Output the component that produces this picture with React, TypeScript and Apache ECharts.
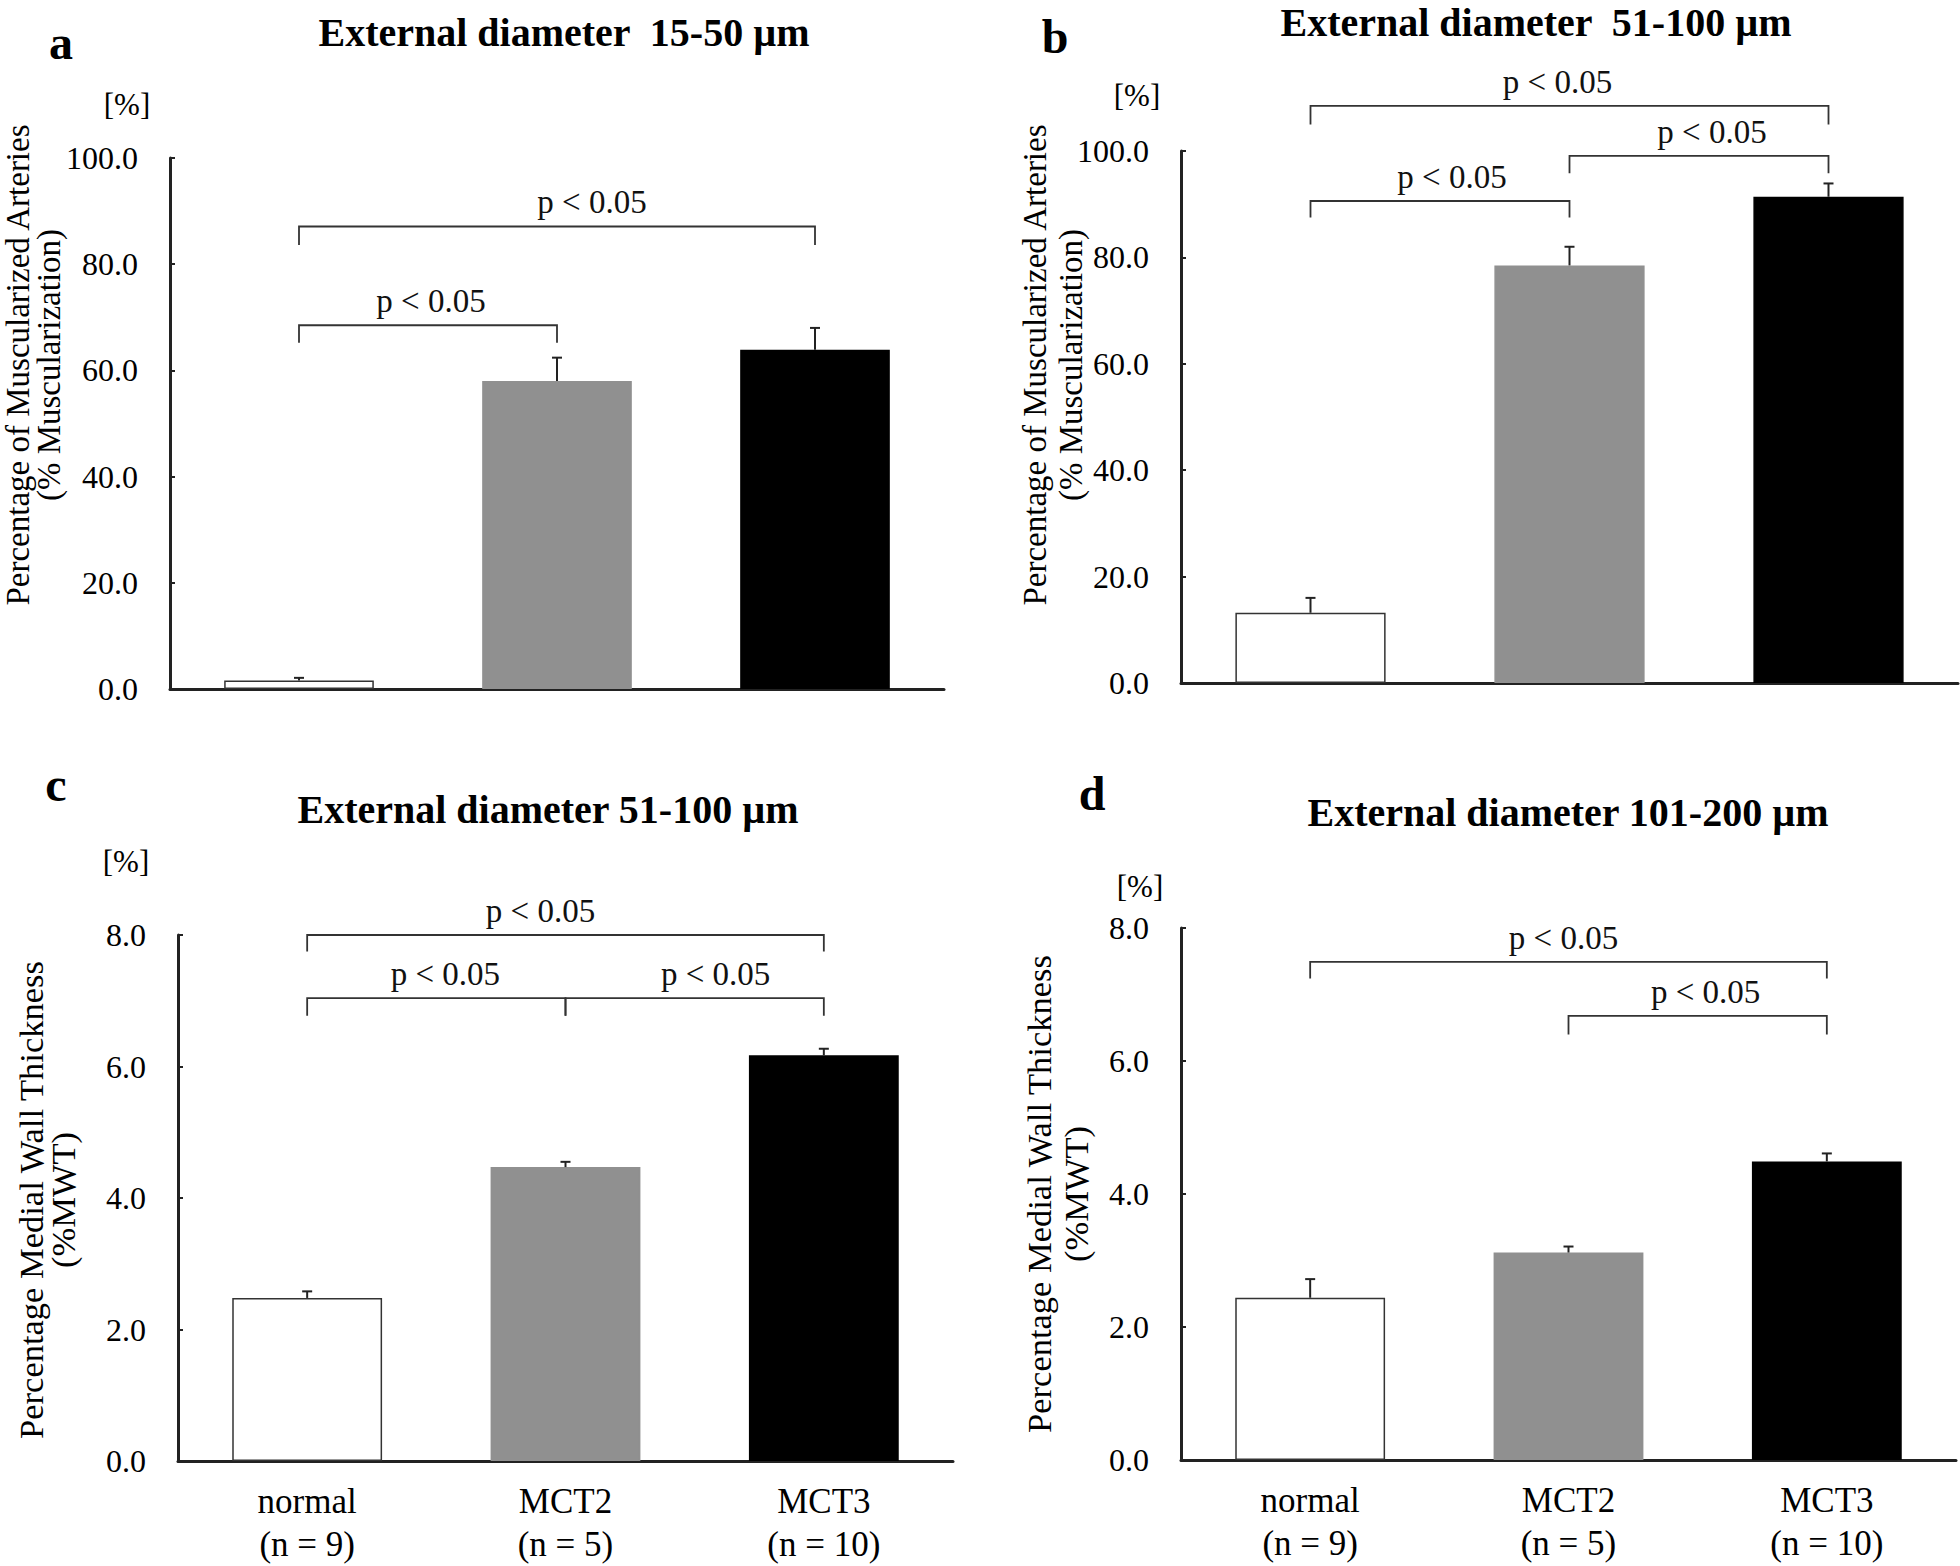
import React, { useEffect, useRef } from "react";
import * as echarts from "echarts";

// ---------------- data ----------------
const categories = ["normal", "MCT2", "MCT3"];
const groupSizes = ["(n = 9)", "(n = 5)", "(n = 10)"];

const panelLetters = ["a", "b", "c", "d"];
const panelTitles = [
  "External diameter  15-50 µm",
  "External diameter  51-100 µm",
  "External diameter 51-100 µm",
  "External diameter 101-200 µm",
];
const yNamesTop = ["Percentage of Muscularized Arteries", "(% Muscularization)"];
const yNamesBottom = ["Percentage Medial Wall Thickness", "(%MWT)"];
const unitLabel = "[%]";
const pLabel = "p < 0.05";

// panel a: muscularization, 15-50 µm
const aMeans = [1.6, 58.0, 63.9];
const aErr = [0.5, 4.4, 4.1];
// panel b: muscularization, 51-100 µm
const bMeans = [13.2, 78.5, 91.4];
const bErr = [2.8, 3.5, 2.5];
// panel c: %MWT, 51-100 µm
const cMeans = [2.48, 4.47, 6.17];
const cErr = [0.1, 0.08, 0.1];
// panel d: %MWT, 101-200 µm
const dMeans = [2.44, 3.12, 4.49];
const dErr = [0.28, 0.09, 0.12];

// significance brackets: [fromIndex, toIndex, level, legEnd]
const aBrackets = [
  [0, 1, 68.5, 65.2],
  [0, 2, 87.1, 83.6],
];
const bBrackets = [
  [0, 1, 90.6, 87.5],
  [1, 2, 99.1, 95.8],
  [0, 2, 108.5, 105.0],
];
const cBrackets = [
  [0, 1, 7.04, 6.77],
  [1, 2, 7.04, 6.77],
  [0, 2, 8.0, 7.75],
];
const dBrackets = [
  [0, 2, 7.49, 7.24],
  [1, 2, 6.68, 6.4],
];

const yMaxes = [100, 100, 8, 8];
const yIntervals = [20, 20, 2, 2];

// ---------------- layout / style ----------------
const FONT = "'Liberation Serif', 'Times New Roman', serif";
const barColors = ["#ffffff", "#909090", "#000000"];
const barBorders = ["#333333", "#909090", "#000000"];
const grids = [
  { left: 170, top: 158, width: 774, height: 531 },
  { left: 1181, top: 151, width: 777, height: 532 },
  { left: 178, top: 935, width: 775, height: 532 },
  { left: 1181, top: 928, width: 775, height: 532 },
];
const bracketLabelDx = [
  [3, 35],
  [12, 13, -12],
  [9, 21, -25],
  [-5, 8],
];
const letterPos = [
  [61, 42],
  [1055, 36],
  [56, 784],
  [1092, 793],
];
const titlePos = [
  [564, 32],
  [1536, 22],
  [548, 809],
  [1568, 812],
];
const unitPos = [
  [127, 104],
  [1137, 95],
  [126, 861],
  [1140, 886],
];
const yNamePos = [
  { x1: 18, x2: 49, y: 365, size: 33 },
  { x1: 1035, x2: 1071, y: 365, size: 33 },
  { x1: 31, x2: 63, y: 1200, size: 34.5 },
  { x1: 1039, x2: 1076, y: 1194, size: 34.5 },
];

export default function App() {
  const ref = useRef<HTMLDivElement>(null);

  useEffect(() => {
    if (!ref.current) return;
    const chart = echarts.init(ref.current, undefined, { renderer: "svg" });

    const means = [aMeans, bMeans, cMeans, dMeans];
    const errs = [aErr, bErr, cErr, dErr];
    const brackets = [aBrackets, bBrackets, cBrackets, dBrackets];

    const xAxes: any[] = [];
    const yAxes: any[] = [];
    const series: any[] = [];
    const graphics: any[] = [];

    for (let p = 0; p < 4; p++) {
      const isBottom = p >= 2;
      xAxes.push({
        type: "category",
        gridIndex: p,
        data: categories,
        axisLine: { show: true, lineStyle: { color: "#222", width: 3 } },
        axisTick: { show: false },
        axisLabel: {
          show: isBottom,
          interval: 0,
          color: "#000",
          fontFamily: FONT,
          fontSize: 35,
          lineHeight: 43,
          margin: 19,
          formatter: (v: string, i: number) => `${v}\n${groupSizes[i]}`,
        },
        splitLine: { show: false },
      });
      yAxes.push({
        type: "value",
        gridIndex: p,
        min: 0,
        max: yMaxes[p],
        interval: yIntervals[p],
        axisLine: { show: true, lineStyle: { color: "#222", width: 3 } },
        axisTick: { show: true, inside: true, length: 5, lineStyle: { color: "#222", width: 2 } },
        axisLabel: {
          color: "#000",
          fontFamily: FONT,
          fontSize: 32,
          margin: 32,
          formatter: (v: number) => v.toFixed(1),
        },
        splitLine: { show: false },
      });

      series.push({
        type: "bar",
        xAxisIndex: p,
        yAxisIndex: p,
        barCategoryGap: "42%",
        data: means[p].map((v, i) => ({
          value: v,
          itemStyle: { color: barColors[i], borderColor: barBorders[i], borderWidth: 1.5 },
        })),
        z: 2,
      });

      series.push({
        type: "custom",
        xAxisIndex: p,
        yAxisIndex: p,
        z: 3,
        clip: false,
        encode: { x: 0, y: [1, 2] },
        data: means[p].map((m, i) => [i, m, m + errs[p][i]]),
        renderItem: (params: any, api: any) => {
          const i = api.value(0);
          const base = api.coord([i, api.value(1)]);
          const top = api.coord([i, api.value(2)]);
          const style = { stroke: "#222", lineWidth: 2 };
          return {
            type: "group",
            children: [
              { type: "line", shape: { x1: base[0], y1: base[1], x2: top[0], y2: top[1] }, style },
              { type: "line", shape: { x1: top[0] - 5, y1: top[1], x2: top[0] + 5, y2: top[1] }, style },
            ],
          };
        },
      });

      const dxs = bracketLabelDx[p];
      series.push({
        type: "custom",
        xAxisIndex: p,
        yAxisIndex: p,
        z: 4,
        clip: false,
        encode: { x: [0, 1], y: [2, 3] },
        data: brackets[p],
        renderItem: (params: any, api: any) => {
          const from = api.value(0);
          const to = api.value(1);
          const lvl = api.value(2);
          const leg = api.value(3);
          const a1 = api.coord([from, leg]);
          const a2 = api.coord([from, lvl]);
          const b2 = api.coord([to, lvl]);
          const b1 = api.coord([to, leg]);
          const dx = dxs[params.dataIndex] || 0;
          return {
            type: "group",
            children: [
              {
                type: "polyline",
                shape: { points: [a1, a2, b2, b1] },
                style: { stroke: "#333", lineWidth: 1.8, fill: null },
              },
              {
                type: "text",
                style: {
                  text: pLabel,
                  x: (a2[0] + b2[0]) / 2 + dx,
                  y: a2[1] - 24,
                  textAlign: "center",
                  textVerticalAlign: "middle",
                  fontFamily: FONT,
                  fontSize: 33,
                  fill: "#111",
                },
              },
            ],
          };
        },
      });

      graphics.push({
        type: "text",
        x: letterPos[p][0],
        y: letterPos[p][1],
        style: {
          text: panelLetters[p],
          textAlign: "center",
          textVerticalAlign: "middle",
          fontFamily: FONT,
          fontWeight: "bold",
          fontSize: 48,
          fill: "#000",
        },
      });
      graphics.push({
        type: "text",
        x: titlePos[p][0],
        y: titlePos[p][1],
        style: {
          text: panelTitles[p],
          textAlign: "center",
          textVerticalAlign: "middle",
          fontFamily: FONT,
          fontWeight: "bold",
          fontSize: 40,
          fill: "#000",
        },
      });
      graphics.push({
        type: "text",
        x: unitPos[p][0],
        y: unitPos[p][1],
        style: {
          text: unitLabel,
          textAlign: "center",
          textVerticalAlign: "middle",
          fontFamily: FONT,
          fontSize: 31,
          fill: "#000",
        },
      });
      const names = p < 2 ? yNamesTop : yNamesBottom;
      const np = yNamePos[p];
      graphics.push({
        type: "text",
        x: np.x1,
        y: np.y,
        rotation: Math.PI / 2,
        style: {
          text: names[0],
          textAlign: "center",
          textVerticalAlign: "middle",
          fontFamily: FONT,
          fontSize: np.size,
          fill: "#000",
        },
      });
      graphics.push({
        type: "text",
        x: np.x2,
        y: np.y,
        rotation: Math.PI / 2,
        style: {
          text: names[1],
          textAlign: "center",
          textVerticalAlign: "middle",
          fontFamily: FONT,
          fontSize: np.size,
          fill: "#000",
        },
      });
    }

    chart.setOption({
      animation: false,
      backgroundColor: "#ffffff",
      textStyle: { fontFamily: FONT },
      grid: grids.map((g) => ({ ...g, containLabel: false })),
      xAxis: xAxes,
      yAxis: yAxes,
      series,
      graphic: graphics,
    });

    return () => chart.dispose();
  }, []);

  return (
    <div
      ref={ref}
      style={{ position: "absolute", left: 0, top: 0, width: 1960, height: 1566, background: "#fff" }}
    />
  );
}
